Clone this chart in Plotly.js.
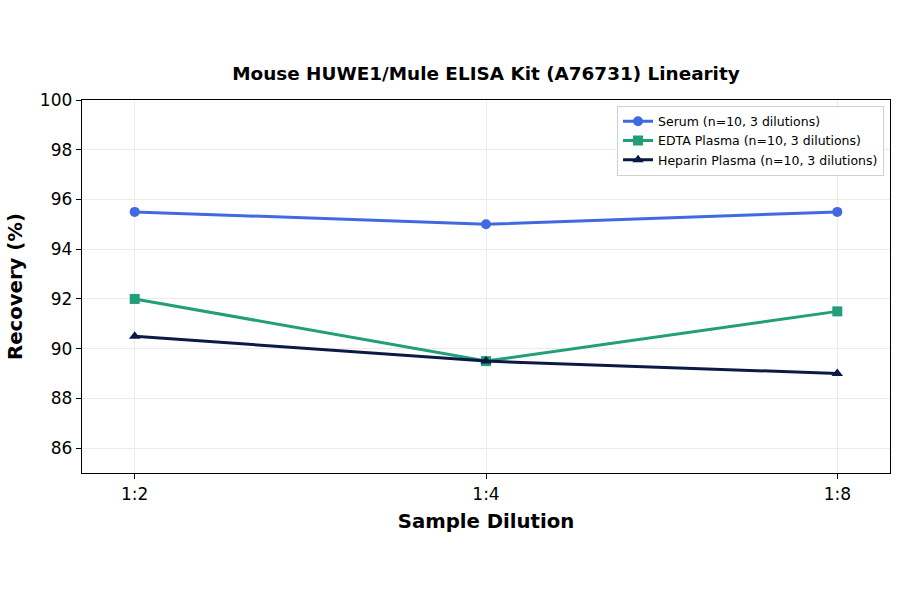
<!DOCTYPE html>
<html>
<head>
<meta charset="utf-8">
<script src="https://cdn.plot.ly/plotly-3.0.1.min.js"></script>
<style>
  html, body { margin: 0; padding: 0; background: #fff; }
  #chart { width: 900px; height: 594px; }
</style>
</head>
<body>
<div id="chart"></div>
<script>
// data
const dilutions = ['1:2', '1:4', '1:8']
const serum = [95.5, 95.0, 95.5]
const edtaPlasma = [92.0, 89.5, 91.5]
const heparinPlasma = [90.5, 89.5, 89.0]
const yTicks = [86, 88, 90, 92, 94, 96, 98, 100]

const seriesNames = [
    'Serum (n=10, 3 dilutions)',
    'EDTA Plasma (n=10, 3 dilutions)',
    'Heparin Plasma (n=10, 3 dilutions)'
]

function makeTrace(y, name, color, symbol) {
    return {
        x: [0, 1, 2],
        y: y,
        name: name,
        type: 'scatter',
        mode: 'lines+markers',
        line: { color: color, width: 3 },
        marker: { color: color, symbol: symbol, size: 10 }
    }
}

const traces = [
    makeTrace(serum, seriesNames[0], '#4169E1', 'circle'),
    makeTrace(edtaPlasma, seriesNames[1], '#229E78', 'square'),
    makeTrace(heparinPlasma, seriesNames[2], '#0A1A44', 'triangle-up')
]

const layout = {
    width: 900,
    height: 594,
    margin: { l: 82, r: 10, t: 100, b: 121 },
    paper_bgcolor: '#fff',
    plot_bgcolor: '#fff',
    font: { family: 'DejaVu Sans, sans-serif', color: '#000' },
    title: {
        text: '<b>Mouse HUWE1/Mule ELISA Kit (A76731) Linearity</b>',
        font: { size: 18.4 },
        xref: 'paper', x: 0.5, xanchor: 'center',
        y: 0.877, yanchor: 'middle'
    },
    xaxis: {
        range: [-0.15, 2.15],
        tickvals: [0, 1, 2],
        ticktext: dilutions,
        ticks: 'outside', ticklen: 5, tickcolor: '#000',
        tickfont: { size: 17 },
        showgrid: true, gridcolor: '#ebebeb', gridwidth: 1,
        showline: true, linecolor: '#000', linewidth: 1.3, mirror: true,
        zeroline: false,
        title: { text: '<b>Sample Dilution</b>', font: { size: 19.7 }, standoff: 11 }
    },
    yaxis: {
        range: [85, 100],
        tickvals: yTicks,
        ticks: 'outside', ticklen: 5, tickcolor: '#000',
        tickfont: { size: 17 },
        showgrid: true, gridcolor: '#ebebeb', gridwidth: 1,
        showline: true, linecolor: '#000', linewidth: 1.3, mirror: true,
        zeroline: false,
        title: { text: '<b>Recovery (%)</b>', font: { size: 19.7 }, standoff: 12 }
    },
    legend: {
        x: 0.9926, xanchor: 'right',
        y: 0.985, yanchor: 'top',
        bgcolor: 'rgba(255,255,255,0.9)',
        bordercolor: '#d0d0d0', borderwidth: 1,
        font: { size: 12.5 },
        tracegroupgap: 0,
        itemwidth: 30
    },
    showlegend: true
}

Plotly.newPlot('chart', traces, layout, { displayModeBar: false, staticPlot: true })
</script>
</body>
</html>
